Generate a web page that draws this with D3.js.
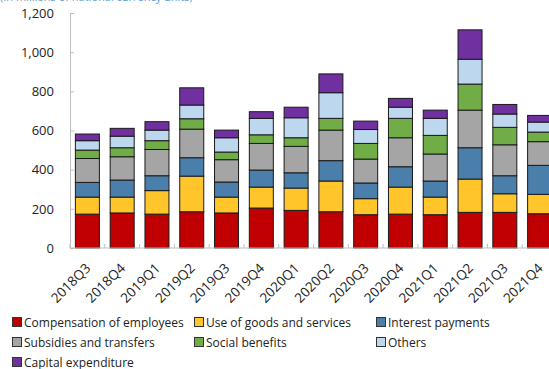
<!DOCTYPE html>
<html><head><meta charset="utf-8">
<script src="https://cdn.jsdelivr.net/npm/d3@7"></script>
<style>body{margin:0;background:#fff}svg{display:block;font-family:"Open Sans","Noto Sans",sans-serif}</style>
</head><body><svg id="c" width="549" height="369"></svg>
<script>
const quarters = ["2018Q3","2018Q4","2019Q1","2019Q2","2019Q3","2019Q4","2020Q1","2020Q2","2020Q3","2020Q4","2021Q1","2021Q2","2021Q3","2021Q4"];
const compensation = [173,179,173,185,179,204,192,185,170,173,170,182,182,175];
const goodsServices = [87,81,120,182,81,107,114,157,82,138,90,170,95,99];
const interest = [75,87,76,94,77,87,78,104,80,104,82,160,92,148];
const subsidies = [122,119,134,146,114,136,135,156,122,148,138,192,158,121];
const social = [43,46,45,53,39,44,44,60,80,99,95,133,89,49];
const others = [48,59,54,70,73,84,102,131,71,57,87,127,68,51];
const capex = [34,40,43,88,39,34,54,96,43,45,42,150,49,34];
const seriesNames = ["Compensation of employees","Use of goods and services","Interest payments","Subsidies and transfers","Social benefits","Others","Capital expenditure"];
const seriesColors = ["#C00000","#FFC52B","#4A7EAB","#A5A5A5","#70AD47","#BDD7EE","#7030A0"];
const yTicks = [0,200,400,600,800,1000,1200];

const seriesValues = [compensation,goodsServices,interest,subsidies,social,others,capex];
const rows = quarters.map((q,i)=>{const r={q}; seriesNames.forEach((n,k)=>r[n]=seriesValues[k][i]); return r;});
const stack = d3.stack().keys(seriesNames)(rows);

const svg = d3.select("#c");
const x = d3.scaleBand().domain(quarters).range([70,557]).paddingInner(0.31).paddingOuter(0.155);
const y = d3.scaleLinear().domain([0,1200]).range([248,13]);

svg.append("text").attr("x",0).attr("y",1).attr("fill","#5B9BD5").attr("font-size",11)
  .text("(In millions of national currency units)");

// bars
svg.append("g").selectAll("g").data(stack).join("g").attr("fill",(d,i)=>seriesColors[i])
  .selectAll("rect").data(d=>d).join("rect")
  .attr("x",d=>x(d.data.q)).attr("width",x.bandwidth())
  .attr("y",d=>y(d[1])).attr("height",d=>y(d[0])-y(d[1]))
  .attr("stroke","#1a1a1a").attr("stroke-width",1);

// y axis
const ya = svg.append("g").attr("transform","translate(70,0)")
  .call(d3.axisLeft(y).tickValues(yTicks).tickFormat(d3.format(",")).tickSizeInner(-4).tickSizeOuter(0).tickPadding(16));
ya.select(".domain").attr("stroke","#BFBFBF");
ya.selectAll(".tick line").attr("stroke","#BFBFBF");
ya.selectAll("text").attr("font-size",13).attr("fill","#222").attr("font-family","Open Sans");

// x axis
const xa = svg.append("g").attr("transform","translate(0,248)");
xa.append("line").attr("x1",70).attr("x2",557).attr("stroke","#BFBFBF");
const step = x.step();
xa.selectAll("line.t").data(quarters).join("line").attr("class","t")
  .attr("x1",d=>x(d)-x.paddingOuter()*step).attr("x2",d=>x(d)-x.paddingOuter()*step)
  .attr("y1",0).attr("y2",-4).attr("stroke","#BFBFBF");
xa.selectAll("text").data(quarters).join("text")
  .attr("text-anchor","end").attr("font-size",13.5).attr("fill","#222")
  .attr("transform",d=>`translate(${x(d)+x.bandwidth()/2+4},${21}) rotate(-45)`)
  .text(d=>d);

// legend
const legPos = [[12,322],[194,322],[376,322],[12,342],[194,342],[376,342],[12,362]];
const lg = svg.append("g").selectAll("g").data(seriesNames).join("g")
  .attr("transform",(d,i)=>`translate(${legPos[i][0]},${legPos[i][1]})`);
lg.append("rect").attr("x",0.5).attr("y",-4.5).attr("width",9).attr("height",9)
  .attr("fill",(d,i)=>seriesColors[i]).attr("stroke","#333");
lg.append("text").attr("x",12).attr("y",4.5).attr("font-size",12).attr("fill","#222").text(d=>d);
</script></body></html>
